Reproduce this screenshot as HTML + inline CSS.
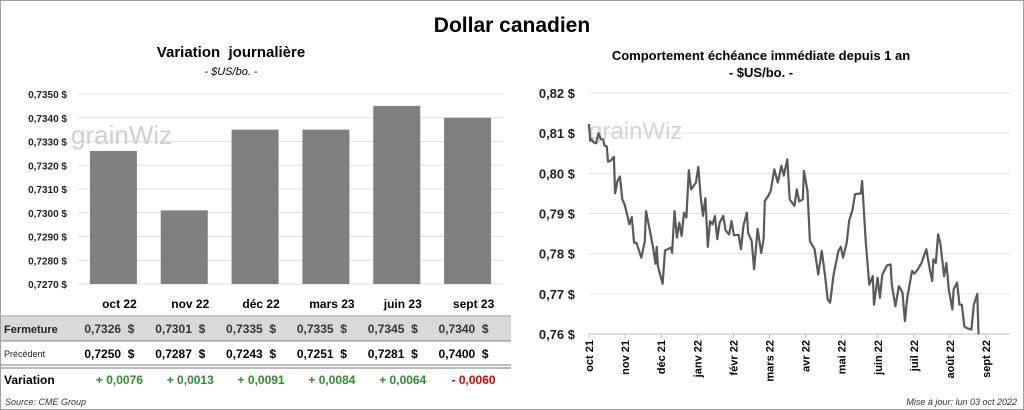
<!DOCTYPE html>
<html><head><meta charset="utf-8"><style>
body{margin:0;background:#fff;font-family:"Liberation Sans",sans-serif;}
#wrap{position:relative;width:1022px;height:408px;border:1px solid #a0a0a0;overflow:hidden;}
.t{position:absolute;white-space:nowrap;}
</style></head><body>
<div id="wrap">
<div class="t" style="left:0;width:1022px;text-align:center;top:13px;font-size:21px;font-weight:bold;">Dollar canadien</div>
<div class="t" style="left:130px;width:200px;text-align:center;top:43px;font-size:15px;font-weight:bold;">Variation&nbsp; journalière</div>
<div class="t" style="left:130px;width:200px;text-align:center;top:65px;font-size:11px;font-style:italic;">- $US/bo. -</div>
<div class="t" style="left:560px;width:400px;text-align:center;top:47px;font-size:13px;font-weight:bold;">Comportement échéance immédiate depuis 1 an</div>
<div class="t" style="left:560px;width:400px;text-align:center;top:64px;font-size:13px;font-weight:bold;">- $US/bo. -</div>
<svg id="svg" width="1022" height="408" style="position:absolute;left:0;top:0"></svg>
<div class="t" style="left:4px;top:396px;font-size:9px;font-style:italic;color:#333;">Source: CME Group</div>
<div class="t" style="right:6px;top:396px;font-size:9px;font-style:italic;color:#333;">Mise à jour: lun 03 oct 2022</div>
</div>
<script>
const barCats=["oct 22","nov 22","déc 22","mars 23","juin 23","sept 23"];
const closeVals=[0.7326,0.7301,0.7335,0.7335,0.7345,0.7340];
const prevVals=[0.7250,0.7287,0.7243,0.7251,0.7281,0.7400];
const varVals=[0.0076,0.0013,0.0091,0.0084,0.0064,-0.0060];
const barTicks=[0.7270,0.7280,0.7290,0.7300,0.7310,0.7320,0.7330,0.7340,0.7350];
const lineDays=[0,1,2,4,6,8,10,12,13,15,16,18,21,22,24,26,28,30,32,34,36,38,40,44,47,48,51,54,56,57,58,62,64,69,70,72,74,76,78,80,82,84,86,90,92,94,96,98,100,102,104,106,108,110,113,115,118,120,122,126,128,130,133,134,137,139,142,145,147,148,151,153,156,159,162,164,167,169,173,175,177,180,181,184,186,190,193,196,199,201,203,206,208,210,212,214,217,219,222,224,229,230,233,236,239,240,243,245,247,251,254,255,258,261,264,266,268,272,274,277,280,284,287,289,290,292,294,296,299,301,303,306,307,310,312,314,316,318,322,324,327,328];
const lineVals=[0.8123,0.8081,0.8085,0.8077,0.8075,0.8100,0.8085,0.8084,0.8069,0.8067,0.8029,0.8031,0.8041,0.7950,0.7981,0.7992,0.7935,0.7923,0.7898,0.7873,0.7891,0.7827,0.7827,0.7790,0.7831,0.7906,0.7861,0.7815,0.7775,0.7817,0.7769,0.7725,0.7808,0.7815,0.7802,0.7906,0.7840,0.7877,0.7844,0.7902,0.7890,0.8008,0.7960,0.7977,0.8016,0.7944,0.7894,0.7938,0.7817,0.7881,0.7873,0.7894,0.7836,0.7877,0.7894,0.7858,0.7848,0.7881,0.7846,0.7847,0.7811,0.7869,0.7902,0.7852,0.7831,0.7761,0.7862,0.7802,0.7836,0.7931,0.7944,0.7956,0.8010,0.7977,0.8019,0.7994,0.8035,0.7935,0.7919,0.7960,0.7930,0.7935,0.8006,0.7956,0.7831,0.7811,0.7748,0.7807,0.7740,0.7686,0.7678,0.7748,0.7777,0.7807,0.7817,0.7790,0.7827,0.7881,0.7910,0.7948,0.7950,0.7981,0.7831,0.7723,0.7744,0.7673,0.7740,0.7690,0.7748,0.7771,0.7773,0.7723,0.7669,0.7719,0.7703,0.7632,0.7690,0.7757,0.7750,0.7761,0.7777,0.7811,0.7761,0.7732,0.7786,0.7777,0.7848,0.7823,0.7744,0.7777,0.7711,0.7661,0.7711,0.7728,0.7673,0.7673,0.7619,0.7615,0.7611,0.7673,0.7700,0.7599];
const lineTicks=[0.76,0.77,0.78,0.79,0.80,0.81,0.82];
const monthLabels=["oct 21","nov 21","déc 21","janv 22","févr 22","mars 22","avr 22","mai 22","juin 22","juil 22","août 22","sept 22"];

const NS="http://www.w3.org/2000/svg";
const svg=document.getElementById('svg');
function mk(tag,attrs,parent){const e=document.createElementNS(NS,tag);for(const k in attrs)e.setAttribute(k,attrs[k]);(parent||svg).appendChild(e);return e;}
const fr=(v,d)=>v.toFixed(d).replace('.',',');

const bx0=77,bx1=502,by0=283,by1=93,bmin=0.7270,bmax=0.7350;
const bY=v=>by0-(v-bmin)/(bmax-bmin)*(by0-by1);
const bw=(bx1-bx0)/barCats.length;
const bX=i=>bx0+bw*(i+0.5);
barTicks.forEach(t=>{
 const l=mk('line',{x1:bx0,x2:bx1,y1:bY(t),y2:bY(t),stroke:'#e0e0e0','stroke-width':1});
 
 const tx=mk('text',{x:66,y:bY(t)+4,'text-anchor':'end','font-size':10,'font-weight':'bold',fill:'#222'});
 tx.textContent=fr(t,4)+' $';
 
});
const wm1=mk('text',{x:70,y:143,'font-size':26,fill:'#cfcfcf'});wm1.textContent='grainWiz';

closeVals.forEach((v,i)=>{
 const r=mk('rect',{x:bX(i)-23.5,y:bY(v),width:47,height:by0-bY(v),fill:'#7f7f7f'});
 
});
const bg=mk('rect',{x:0,y:316,width:510,height:24,fill:'#d9d9d9'});

[[315,1,'#888'],[340,1,'#888'],[364,1,'#777'],[367,1,'#777']].forEach(a=>{
 const l=mk('line',{x1:0,x2:510,y1:a[0],y2:a[0],stroke:a[2],'stroke-width':a[1]});
 
});
const lab=[['Fermeture',332,11,'bold','#222'],['Précédent',356,9,'normal','#222'],['Variation',383,12,'bold','#000']];
lab.forEach(a=>{const t=mk('text',{x:3,y:a[1],'font-size':a[2],'font-weight':a[3],fill:a[4]});t.textContent=a[0];
 });
barCats.forEach((c,i)=>{
 const cx=bX(i);
 let t=mk('text',{x:cx+6,y:307,'text-anchor':'middle','font-size':12,'font-weight':'bold'});t.textContent=c;
 
 t=mk('text',{x:cx+21,y:332,'text-anchor':'end','font-size':12,'font-weight':'bold',fill:'#333'});t.textContent=fr(closeVals[i],4)+'\u00a0\u00a0$';
 
 t=mk('text',{x:cx+21,y:357,'text-anchor':'end','font-size':12,'font-weight':'bold'});t.textContent=fr(prevVals[i],4)+'\u00a0\u00a0$';
 
 const d=varVals[i];
 t=mk('text',{x:cx+6,y:383,'text-anchor':'middle','font-size':12,'font-weight':'bold',fill:d>=0?'#2e8b2e':'#e00000'});
 t.textContent=(d>=0?'+ ':'- ')+fr(Math.abs(d),4);
 
});

const lx0=588,lx1=1009,ly0=333,ly1=92,lmin=0.76,lmax=0.82,dpm=30.4,pxm=36.1;
const lY=v=>ly0-(v-lmin)/(lmax-lmin)*(ly0-ly1);
const lX=d=>lx0+d/dpm*pxm;
lineTicks.forEach(t=>{
 const l=mk('line',{x1:lx0,x2:lx1,y1:lY(t),y2:lY(t),stroke:'#e0e0e0','stroke-width':1});
 
 const tx=mk('text',{x:574,y:lY(t)+5,'text-anchor':'end','font-size':13,'font-weight':'bold',fill:'#222'});
 tx.textContent=fr(t,2)+' $';
 
});
const wm2=mk('text',{x:588,y:138,'font-size':24,fill:'#d4d4d4'});wm2.textContent='grainWiz';

const ax=mk('line',{x1:lx0,x2:lx1,y1:ly0,y2:ly0,stroke:'#bbb'});

monthLabels.forEach((m,i)=>{
 const x=lX(i*dpm);
 const tk=mk('line',{x1:x,x2:x,y1:ly0,y2:ly0+4,stroke:'#bbb'});
 
 const t=mk('text',{x:0,y:0,'text-anchor':'end','font-size':11,'font-weight':'bold',transform:`translate(${x+4},${ly0+6}) rotate(-90)`});
 t.textContent=m;
});
const p=lineDays.map((d,i)=>(i?'L':'M')+lX(d).toFixed(1)+','+lY(lineVals[i]).toFixed(1)).join('');
const path=mk('path',{d:p,fill:'none',stroke:'#595959','stroke-width':2.2,'stroke-linejoin':'round'});

</script>
</body></html>
